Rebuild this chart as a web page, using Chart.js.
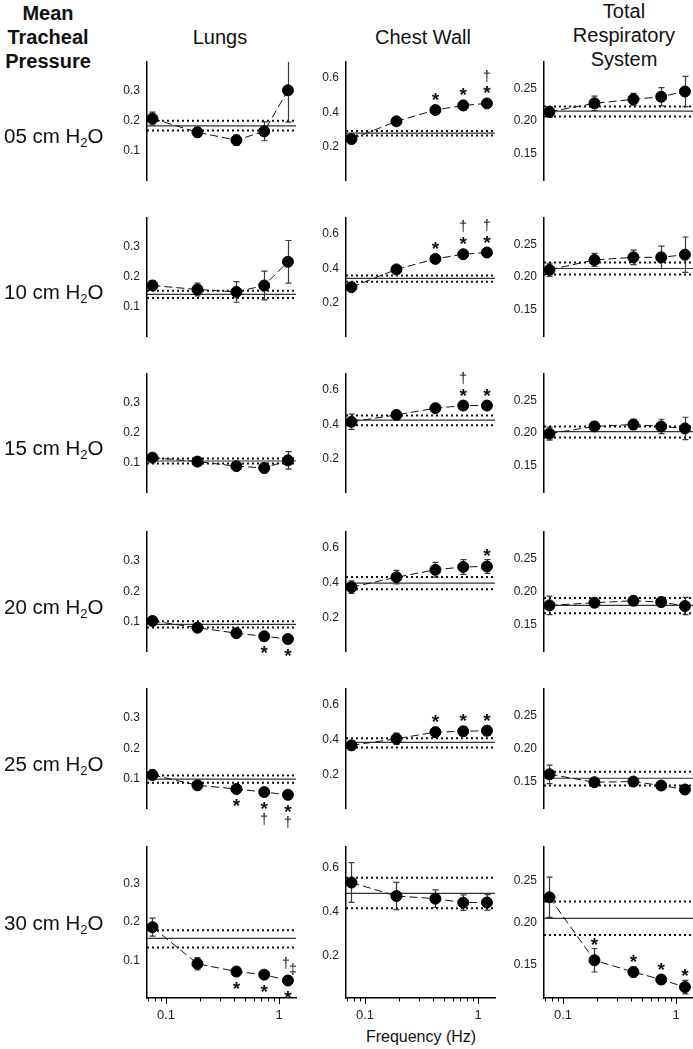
<!DOCTYPE html>
<html>
<head>
<meta charset="utf-8">
<script src="https://cdn.jsdelivr.net/npm/chart.js@4/dist/chart.umd.min.js"></script>
<style>
html, body { margin: 0; padding: 0; overflow: hidden; background: #fff; }
body { width: 693px; height: 1049px; position: relative; font-family: "Liberation Sans", Arial, sans-serif; color: #111; }
canvas { position: absolute; }
.lbl { position: absolute; white-space: nowrap; }
.head { font-size: 20px; line-height: 24px; text-align: center; transform: translateX(-50%); }
.row { font-size: 20.5px; transform: translateY(-50%); }
.row sub { font-size: 13px; vertical-align: -4px; line-height: 0; }
</style>
</head>
<body>
<div class="lbl head" style="left:48px;top:1px;font-weight:bold;">Mean<br>Tracheal<br>Pressure</div>
<div class="lbl head" style="left:220px;top:25px;">Lungs</div>
<div class="lbl head" style="left:423px;top:25px;">Chest Wall</div>
<div class="lbl head" style="left:624px;top:-1px;">Total<br>Respiratory<br>System</div>
<div class="lbl head" style="left:421px;top:1027px;font-size:16px;line-height:20px;">Frequency (Hz)</div>
<script>
// frequencies (Hz) and tick labels
const freqs = [0.076, 0.19, 0.42, 0.74, 1.2];
const xTicks = [0.1, 1];
const xMinorTicks = [0.07, 0.08, 0.09, 0.2, 0.3, 0.4, 0.5, 0.6, 0.7, 0.8, 0.9];
const pressures = ['05', '10', '15', '20', '25', '30'];

const lungsTicks = [0.1, 0.2, 0.3];
const chestTicks = [0.2, 0.4, 0.6];
const totalTicks = [0.15, 0.20, 0.25];

// one row per mean tracheal pressure
const lungsMean = [
    [0.207, 0.162, 0.136, 0.165, 0.300],
    [0.171, 0.158, 0.150, 0.171, 0.249],
    [0.118, 0.105, 0.090, 0.084, 0.109],
    [0.103, 0.081, 0.063, 0.053, 0.044],
    [0.113, 0.079, 0.067, 0.057, 0.048],
    [0.187, 0.093, 0.073, 0.065, 0.050]
];
const lungsErr = [
    [0.021, 0.015, 0.017, 0.031, 0.105],
    [0.016, 0.021, 0.034, 0.047, 0.070],
    [0.006, 0.006, 0.012, 0.016, 0.029],
    [0.006, 0.004, 0.004, 0.004, 0.006],
    [0.016, 0.005, 0.004, 0.004, 0.005],
    [0.023, 0.016, 0.005, 0.005, 0.005]
];
// [upper dotted, mean, lower dotted]
const lungsRef = [
    [0.200, 0.183, 0.168],
    [0.154, 0.142, 0.130],
    [0.115, 0.107, 0.099],
    [0.102, 0.092, 0.082],
    [0.111, 0.099, 0.087],
    [0.179, 0.158, 0.135]
];

const chestMean = [
    [0.245, 0.348, 0.414, 0.440, 0.452],
    [0.291, 0.394, 0.455, 0.482, 0.492],
    [0.415, 0.455, 0.494, 0.509, 0.509],
    [0.375, 0.432, 0.475, 0.491, 0.494],
    [0.368, 0.406, 0.444, 0.449, 0.452],
    [0.531, 0.470, 0.458, 0.440, 0.441]
];
const chestErr = [
    [0.010, 0.012, 0.025, 0.029, 0.022],
    [0.010, 0.020, 0.017, 0.020, 0.012],
    [0.044, 0.015, 0.015, 0.020, 0.015],
    [0.036, 0.039, 0.042, 0.042, 0.040],
    [0.026, 0.032, 0.027, 0.027, 0.027],
    [0.090, 0.062, 0.040, 0.035, 0.035]
];
const chestRef = [
    [0.292, 0.280, 0.266],
    [0.358, 0.342, 0.323],
    [0.451, 0.425, 0.395],
    [0.434, 0.398, 0.363],
    [0.409, 0.385, 0.356],
    [0.553, 0.482, 0.415]
];

const totalMean = [
    [0.214, 0.227, 0.233, 0.237, 0.245],
    [0.211, 0.226, 0.230, 0.230, 0.234],
    [0.199, 0.210, 0.213, 0.210, 0.207],
    [0.179, 0.183, 0.186, 0.184, 0.178],
    [0.161, 0.149, 0.150, 0.144, 0.138],
    [0.230, 0.155, 0.141, 0.132, 0.123]
];
const totalErr = [
    [0.008, 0.011, 0.009, 0.014, 0.023],
    [0.010, 0.010, 0.011, 0.017, 0.027],
    [0.010, 0.007, 0.008, 0.011, 0.017],
    [0.014, 0.007, 0.006, 0.007, 0.013],
    [0.014, 0.006, 0.004, 0.004, 0.006],
    [0.024, 0.014, 0.006, 0.005, 0.008]
];
const totalRef = [
    [0.222, 0.215, 0.207],
    [0.222, 0.213, 0.204],
    [0.210, 0.202, 0.193],
    [0.190, 0.179, 0.167],
    [0.165, 0.155, 0.144],
    [0.225, 0.205, 0.185]
];

// significance marks: [row, point, placement, symbols]
const lungsMarks = [
    [3, 3, 'below', ['*']], [3, 4, 'below', ['*']],
    [4, 2, 'below', ['*']], [4, 3, 'below', ['*', '†']], [4, 4, 'below', ['*', '†']],
    [5, 2, 'below', ['*']], [5, 3, 'below', ['*']], [5, 4, 'below', ['*']], [5, 4, 'side', ['†', '‡']]
];
const chestMarks = [
    [0, 2, 'above', ['*']], [0, 3, 'above', ['*']], [0, 4, 'above', ['*', '†']],
    [1, 2, 'above', ['*']], [1, 3, 'above', ['*', '†']], [1, 4, 'above', ['*', '†']],
    [2, 3, 'above', ['*', '†']], [2, 4, 'above', ['*']],
    [3, 4, 'above', ['*']],
    [4, 2, 'above', ['*']], [4, 3, 'above', ['*']], [4, 4, 'above', ['*']]
];
const totalMarks = [
    [5, 1, 'above', ['*']], [5, 2, 'above', ['*']], [5, 3, 'above', ['*']], [5, 4, 'above', ['*']]
];

// layout
const rowTops = [62, 218, 374, 532, 689, 847];
const rowHeights = [148, 148, 148, 149, 149, 151];
const colLefts = [147, 346, 544];
const plotWidth = 149;
const xMin = 0.068, xMax = 1.414;

const columns = [
    { mean: lungsMean, err: lungsErr, ref: lungsRef, ticks: lungsTicks, marks: lungsMarks, yMin: 0.005, yMax: 0.393, digits: 1 },
    { mean: chestMean, err: chestErr, ref: chestRef, ticks: chestTicks, marks: chestMarks, yMin: 0.008, yMax: 0.692, digits: 1 },
    { mean: totalMean, err: totalErr, ref: totalRef, ticks: totalTicks, marks: totalMarks, yMin: 0.110, yMax: 0.290, digits: 2 }
];

Chart.defaults.font.family = '"Liberation Sans", Arial, sans-serif';
Chart.defaults.color = '#222';

function drawSym(ctx, s, x, y) {
    const size = s === '*' ? 19 : 14;
    ctx.font = (s === '*' ? 'bold ' : '') + size + 'px "Liberation Sans", Arial, sans-serif';
    ctx.textAlign = 'center';
    ctx.textBaseline = 'alphabetic';
    ctx.fillText(s, x, y + (s === '*' ? 0.58 : 0.3) * size);
}

function makePanel(col, ci, r) {
    const padL = 50, padT = 40, padR = 25, padB = 40;
    const last = r === rowTops.length - 1;
    const h = rowHeights[r];
    const cw = padL + plotWidth + padR;
    const ch = padT + h + padB;
    const means = col.mean[r];
    const errs = col.err[r];
    const ref = col.ref[r];

    const canvas = document.createElement('canvas');
    canvas.width = cw;
    canvas.height = ch;
    canvas.style.left = (colLefts[ci] - padL) + 'px';
    canvas.style.top = (rowTops[r] - padT) + 'px';
    canvas.style.width = cw + 'px';
    canvas.style.height = ch + 'px';
    document.body.appendChild(canvas);

    const refLine = (v, dotted) => ({
        data: [{ x: xMin, y: v }, { x: xMax, y: v }],
        showLine: true,
        pointRadius: 0,
        borderColor: dotted ? '#111' : '#333',
        borderWidth: dotted ? 2 : 1.2,
        borderDash: dotted ? [2, 3] : [],
        clip: false
    });

    const extras = {
        id: 'panelExtras',
        beforeDatasetsDraw(chart) {
            const ctx = chart.ctx, xs = chart.scales.x, ys = chart.scales.y;
            ctx.save();
            ctx.strokeStyle = '#3a3a3a';
            ctx.lineWidth = 1.2;
            means.forEach((m, i) => {
                const x = Math.round(xs.getPixelForValue(freqs[i])) + 0.5;
                const hiClip = m + errs[i] > ys.max;
                const yt = ys.getPixelForValue(Math.min(m + errs[i], ys.max));
                const yb = ys.getPixelForValue(m - errs[i]);
                ctx.beginPath();
                ctx.moveTo(x, yt);
                ctx.lineTo(x, yb);
                if (!hiClip) { ctx.moveTo(x - 3, yt); ctx.lineTo(x + 3, yt); }
                ctx.moveTo(x - 3, yb);
                ctx.lineTo(x + 3, yb);
                ctx.stroke();
            });
            ctx.restore();
        },
        afterDatasetsDraw(chart) {
            const ctx = chart.ctx, xs = chart.scales.x, ys = chart.scales.y;
            ctx.save();
            ctx.fillStyle = '#111';
            col.marks.filter(mk => mk[0] === r).forEach(([row, i, pos, syms]) => {
                const x = xs.getPixelForValue(freqs[i]);
                const y = ys.getPixelForValue(means[i]);
                const ePx = Math.abs(ys.getPixelForValue(means[i] + errs[i]) - y);
                syms.forEach((s, k) => {
                    let tx = x, ty;
                    if (pos === 'above') ty = y - Math.max(ePx, 6) - 9 - k * 12;
                    else if (pos === 'below') ty = y + Math.max(ePx, 6) + 6 + k * 16;
                    else { tx = x - 2 + k * 7; ty = y - 17 + k * 6; }
                    drawSym(ctx, s, tx, ty);
                });
            });
            if (last) {
                const b = chart.chartArea.bottom;
                ctx.strokeStyle = '#000';
                ctx.lineWidth = 1;
                ctx.beginPath();
                xMinorTicks.forEach(v => {
                    const x = Math.round(xs.getPixelForValue(v)) + 0.5;
                    ctx.moveTo(x, b); ctx.lineTo(x, b + 3.5);
                });
                xTicks.forEach(v => {
                    const x = Math.round(xs.getPixelForValue(v)) + 0.5;
                    ctx.moveTo(x, b); ctx.lineTo(x, b + 6);
                });
                ctx.stroke();
            }
            ctx.restore();
        }
    };

    new Chart(canvas.getContext('2d'), {
        type: 'scatter',
        data: {
            datasets: [
                {
                    data: freqs.map((f, i) => ({ x: f, y: means[i] })),
                    showLine: true,
                    borderColor: '#111',
                    borderWidth: 1,
                    borderDash: [8, 4],
                    pointRadius: 5.5,
                    pointBorderWidth: 1,
                    pointBackgroundColor: '#000',
                    pointBorderColor: '#000',
                    clip: false
                },
                refLine(ref[0], true),
                refLine(ref[1], false),
                refLine(ref[2], true)
            ]
        },
        options: {
            responsive: false,
            devicePixelRatio: 1,
            animation: false,
            events: [],
            layout: { padding: { left: 0, top: padT, right: padR, bottom: last ? padB - 30 : padB } },
            plugins: { legend: { display: false }, tooltip: { enabled: false } },
            scales: {
                x: {
                    type: 'logarithmic',
                    min: xMin,
                    max: xMax,
                    display: last,
                    afterFit: s => { s.height = 30; },
                    afterBuildTicks: s => { s.ticks = xTicks.map(v => ({ value: v })); },
                    grid: { display: false, drawTicks: false },
                    border: { display: true, color: '#000', width: 1.5 },
                    ticks: {
                        padding: 10,
                        font: { size: 13 },
                        color: '#222',
                        maxRotation: 0,
                        autoSkip: false,
                        callback: v => String(v)
                    }
                },
                y: {
                    min: col.yMin,
                    max: col.yMax,
                    afterFit: s => { s.width = padL; },
                    afterBuildTicks: s => { s.ticks = col.ticks.map(v => ({ value: v })); },
                    grid: { display: false, drawTicks: false },
                    border: { display: true, color: '#000', width: 1.5 },
                    ticks: {
                        padding: 7,
                        font: { size: 12 },
                        color: '#222',
                        callback: v => Number(v).toFixed(col.digits)
                    }
                }
            }
        },
        plugins: [extras]
    });
}

columns.forEach((col, ci) => {
    rowTops.forEach((t, r) => makePanel(col, ci, r));
});

pressures.forEach((p, r) => {
    const d = document.createElement('div');
    d.className = 'lbl row';
    d.innerHTML = p + ' cm H<sub>2</sub>O';
    d.style.left = '4px';
    d.style.top = (rowTops[r] + rowHeights[r] / 2) + 'px';
    document.body.appendChild(d);
});
</script>
</body>
</html>
